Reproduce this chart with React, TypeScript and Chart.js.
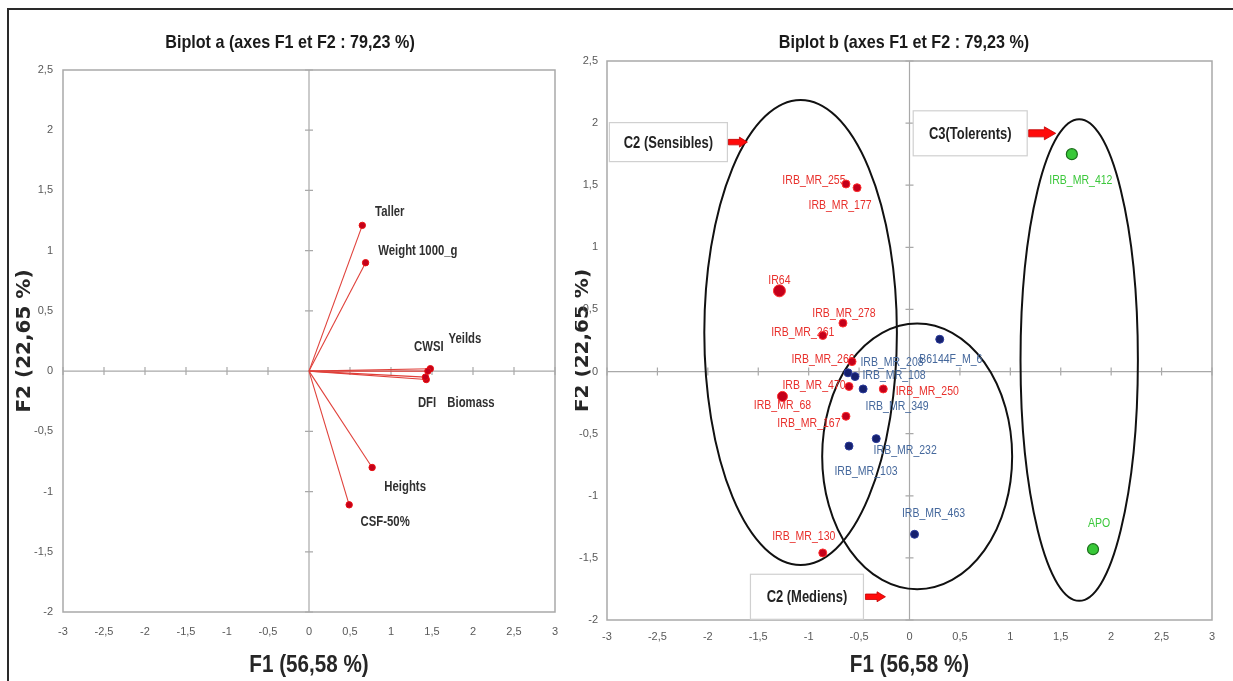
import React, { useEffect, useRef } from 'react';
import { Chart, registerables } from 'chart.js';

Chart.register(...registerables);

// ---------------- DATA ----------------
const TITLE_A = 'Biplot a (axes F1 et F2 : 79,23 %)';
const TITLE_B = 'Biplot b (axes F1 et F2 : 79,23 %)';
const X_TITLE = 'F1 (56,58 %)';
const Y_TITLE = 'F2 (22,65 %)';

const X_MIN = -3;
const X_MAX = 3;
const Y_MIN = -2;
const Y_MAX = 2.5;
const TICK_STEP = 0.5;

// Variables (biplot a)
const VAR_NAMES = ['Taller', 'Weight 1000_g', 'CWSI', 'Yeilds', 'DFI', 'Biomass', 'Heights', 'CSF-50%'];
const VAR_F1 = [0.65, 0.69, 1.45, 1.48, 1.42, 1.43, 0.77, 0.49];
const VAR_F2 = [1.21, 0.9, 0.0, 0.02, -0.05, -0.07, -0.8, -1.11];

// Genotypes (biplot b)
const SENS_NAMES = ['IRB_MR_255', 'IRB_MR_177', 'IR64', 'IRB_MR_278', 'IRB_MR_261', 'IRB_MR_266', 'IRB_MR_470', 'IRB_MR_250', 'IRB_MR_68', 'IRB_MR_167', 'IRB_MR_130'];
const SENS_F1 = [-0.63, -0.52, -1.29, -0.66, -0.86, -0.57, -0.6, -0.26, -1.26, -0.63, -0.86];
const SENS_F2 = [1.51, 1.48, 0.65, 0.39, 0.29, 0.08, -0.12, -0.14, -0.2, -0.36, -1.46];

const MED_NAMES = ['IRB_MR_208', 'IRB_MR_108', 'IRB_MR_349', 'IRB_MR_232', 'IRB_MR_103', 'B6144F_M_6', 'IRB_MR_463'];
const MED_F1 = [-0.61, -0.54, -0.46, -0.33, -0.6, 0.3, 0.05];
const MED_F2 = [-0.01, -0.04, -0.14, -0.54, -0.6, 0.26, -1.31];

const TOL_NAMES = ['IRB_MR_412', 'APO'];
const TOL_F1 = [1.61, 1.82];
const TOL_F2 = [1.75, -1.43];

// Group ellipses (data units: centre, semi-axes)
const GROUP_CX = [-1.08, 0.076, 1.683];
const GROUP_CY = [0.314, -0.683, 0.093];
const GROUP_RX = [0.955, 0.942, 0.582];
const GROUP_RY = [1.872, 1.07, 1.939];

// Callout boxes
const CALLOUT_TEXT = ['C2 (Sensibles)', 'C3(Tolerents)', 'C2 (Mediens)'];
const CALLOUT_CX = [-2.391, 0.602, -1.017];
const CALLOUT_CY = [1.847, 1.918, -1.813];

// ---------------- STYLE ----------------
const SANS = "'Liberation Sans', Arial, sans-serif";
const WIDE_BOLD = "'DejaVu Sans', Verdana, sans-serif";
const NARROW_X = 0.81; // horizontal squeeze imitating Arial Narrow

const VAR_LABEL_OFFSETS: [number, number][] = [
  [27.5, -13.3], [52.3, -11.7], [1, -23.7], [34.6, -29.3], [1.6, 26.3], [44.7, 24], [33, 19.5], [36, 17.5],
];
const SENS_LABEL_OFFSETS: [number, number][] = [
  [-32, -4], [-17, 18], [0, -10], [1, -10], [-20, -3], [-29, -2], [-35, -1], [44, 2], [0, 9], [-37, 7], [-19, -16],
];
const MED_LABEL_OFFSETS: [number, number][] = [
  [44, -10], [39, -1], [34, 17], [29, 12], [17, 25], [11, 20], [19, -21],
];
const TOL_LABEL_OFFSETS: [number, number][] = [[9, 26], [6, -26]];
const SENS_RADIUS = [4, 4, 6, 4, 4, 4, 4, 4, 5, 4, 4];

const CALLOUT_SIZE: [number, number][] = [[118, 39], [114, 45], [113, 45]];
const CALLOUT_ARROW: [number, number, number][] = [[1, 19, 10], [1.5, 27, 13], [2, 20, 10]];

const fmtTick = (v: number | string) => {
  const n = Math.round(Number(v) * 10) / 10;
  return String(n).replace('.', ',');
};

function narrowText(ctx: CanvasRenderingContext2D, text: string, x: number, y: number, font: string, color: string, sx = NARROW_X) {
  ctx.save();
  ctx.font = font;
  ctx.fillStyle = color;
  ctx.textAlign = 'center';
  ctx.textBaseline = 'middle';
  ctx.translate(x, y);
  ctx.scale(sx, 1);
  ctx.fillText(text, 0, 0);
  ctx.restore();
}

type LabelItem = { ds: number; idx: number; text: string; dx: number; dy: number; color: string; font: string };

function decorPlugin(extra: { title: string; labels: LabelItem[]; ellipses?: boolean; callouts?: boolean }) {
  return {
    id: 'decor',
    beforeDatasetsDraw(chart: any) {
      const { ctx, chartArea: a } = chart;
      const xs = chart.scales.x;
      const ys = chart.scales.y;
      ctx.save();
      ctx.strokeStyle = '#a9a9a9';
      ctx.lineWidth = 1.5;
      ctx.strokeRect(a.left, a.top, a.right - a.left, a.bottom - a.top);
      const x0 = xs.getPixelForValue(0);
      const y0 = ys.getPixelForValue(0);
      ctx.lineWidth = 1.2;
      ctx.beginPath();
      ctx.moveTo(x0, a.top);
      ctx.lineTo(x0, a.bottom);
      ctx.moveTo(a.left, y0);
      ctx.lineTo(a.right, y0);
      xs.ticks.forEach((t: any) => {
        const p = xs.getPixelForValue(t.value);
        ctx.moveTo(p, y0 - 4);
        ctx.lineTo(p, y0 + 4);
      });
      ys.ticks.forEach((t: any) => {
        const p = ys.getPixelForValue(t.value);
        ctx.moveTo(x0 - 4, p);
        ctx.lineTo(x0 + 4, p);
      });
      ctx.stroke();

      if (extra.ellipses) {
        ctx.strokeStyle = '#111';
        ctx.lineWidth = 2;
        for (let i = 0; i < GROUP_CX.length; i++) {
          const cx = xs.getPixelForValue(GROUP_CX[i]);
          const cy = ys.getPixelForValue(GROUP_CY[i]);
          const rx = Math.abs(xs.getPixelForValue(GROUP_CX[i] + GROUP_RX[i]) - cx);
          const ry = Math.abs(ys.getPixelForValue(GROUP_CY[i] + GROUP_RY[i]) - cy);
          ctx.beginPath();
          ctx.ellipse(cx, cy, rx, ry, 0, 0, Math.PI * 2);
          ctx.stroke();
        }
      }
      ctx.restore();

      // point labels (drawn under the markers, as in the source figure)
      extra.labels.forEach((l) => {
        const el = chart.getDatasetMeta(l.ds).data[l.idx];
        if (!el) return;
        narrowText(ctx, l.text, el.x + l.dx, el.y + l.dy, l.font, l.color);
      });
    },
    afterDraw(chart: any) {
      const { ctx, chartArea: a, width } = chart;
      const xs = chart.scales.x;
      const ys = chart.scales.y;
      if (extra.callouts) {
        ctx.save();
        for (let i = 0; i < CALLOUT_TEXT.length; i++) {
          const cx = xs.getPixelForValue(CALLOUT_CX[i]);
          const cy = ys.getPixelForValue(CALLOUT_CY[i]);
          const [w, h] = CALLOUT_SIZE[i];
          const l = cx - w / 2;
          const t = cy - h / 2;
          ctx.fillStyle = '#ffffff';
          ctx.fillRect(l, t, w, h);
          ctx.strokeStyle = '#d0d0d0';
          ctx.lineWidth = 1.2;
          ctx.strokeRect(l, t, w, h);
          narrowText(ctx, CALLOUT_TEXT[i], cx, cy + 1, `bold 16px ${SANS}`, '#222');
          // red block arrow
          const [gap, len, ah] = CALLOUT_ARROW[i];
          const ax = l + w + gap;
          const head = len * 0.42;
          const sh = ah * 0.55;
          ctx.beginPath();
          ctx.moveTo(ax, cy - sh / 2);
          ctx.lineTo(ax + len - head, cy - sh / 2);
          ctx.lineTo(ax + len - head, cy - ah / 2);
          ctx.lineTo(ax + len, cy);
          ctx.lineTo(ax + len - head, cy + ah / 2);
          ctx.lineTo(ax + len - head, cy + sh / 2);
          ctx.lineTo(ax, cy + sh / 2);
          ctx.closePath();
          ctx.fillStyle = '#ff0a0a';
          ctx.fill();
          ctx.strokeStyle = '#c00000';
          ctx.lineWidth = 0.8;
          ctx.stroke();
        }
        ctx.restore();
      }
      // chart title and x-axis title (Arial Narrow look)
      narrowText(ctx, extra.title, width / 2, 43, `bold 19px ${SANS}`, '#1a1a1a', 0.85);
      narrowText(ctx, X_TITLE, (a.left + a.right) / 2, 665, `bold 24px ${SANS}`, '#262626', 0.86);
    },
  };
}

function makeScales(p: { yWidth: number; y2Width: number; xHeight: number; xTickPad: number; yTickPad: number; yTitlePad: number }) {
  const tickFont = { family: SANS, size: 11 };
  return {
    x: {
      type: 'linear',
      position: 'bottom',
      min: X_MIN,
      max: X_MAX,
      ticks: { stepSize: TICK_STEP, color: '#595959', font: tickFont, padding: p.xTickPad, callback: fmtTick, maxRotation: 0, autoSkip: false },
      grid: { display: false, drawTicks: false },
      border: { display: false },
      afterFit: (s: any) => {
        s.height = p.xHeight;
      },
    },
    y: {
      type: 'linear',
      position: 'left',
      min: Y_MIN,
      max: Y_MAX,
      ticks: { stepSize: TICK_STEP, color: '#595959', font: tickFont, padding: p.yTickPad, callback: fmtTick, autoSkip: false },
      grid: { display: false, drawTicks: false },
      border: { display: false },
      title: {
        display: true,
        text: Y_TITLE,
        color: '#262626',
        font: { family: WIDE_BOLD, size: 20, weight: 'bold', lineHeight: 1 },
        padding: { top: p.yTitlePad, bottom: 0 },
      },
      afterFit: (s: any) => {
        s.width = p.yWidth;
      },
    },
    y2: {
      type: 'linear',
      position: 'right',
      display: true,
      min: Y_MIN,
      max: Y_MAX,
      ticks: { display: false },
      grid: { display: false, drawTicks: false },
      border: { display: false },
      afterFit: (s: any) => {
        s.width = p.y2Width;
      },
    },
  };
}

function leftConfig(): any {
  const datasets = VAR_NAMES.map((name, i) => ({
    label: name,
    data: [
      { x: 0, y: 0 },
      { x: VAR_F1[i], y: VAR_F2[i] },
    ],
    showLine: true,
    borderColor: '#e0403a',
    borderWidth: 1.1,
    pointRadius: [0, 3.2],
    pointBackgroundColor: '#c4001a',
    pointBorderColor: '#e81010',
    pointBorderWidth: 1,
  }));
  const labels: LabelItem[] = VAR_NAMES.map((name, i) => ({
    ds: i,
    idx: 1,
    text: name,
    dx: VAR_LABEL_OFFSETS[i][0],
    dy: VAR_LABEL_OFFSETS[i][1],
    color: '#303030',
    font: `bold 14px ${SANS}`,
  }));
  return {
    type: 'scatter',
    data: { datasets },
    options: {
      animation: false,
      responsive: false,
      layout: { padding: { top: 70, left: 0, right: 0, bottom: 0 } },
      scales: makeScales({ yWidth: 63, y2Width: 25, xHeight: 69, xTickPad: 13, yTickPad: 10, yTitlePad: 15 }),
      plugins: {
        legend: { display: false },
        tooltip: { enabled: false },
        title: { display: false },
      },
    },
    plugins: [decorPlugin({ title: TITLE_A, labels })],
  };
}

function rightConfig(): any {
  const toPts = (xs: number[], ys: number[]) => xs.map((x, i) => ({ x, y: ys[i] }));
  const datasets = [
    {
      label: 'Sensibles',
      data: toPts(SENS_F1, SENS_F2),
      pointRadius: SENS_RADIUS,
      pointBackgroundColor: '#c4001a',
      pointBorderColor: '#ff3030',
      pointBorderWidth: 1,
    },
    {
      label: 'Mediens',
      data: toPts(MED_F1, MED_F2),
      pointRadius: 4,
      pointBackgroundColor: '#16216e',
      pointBorderColor: '#2a3a9a',
      pointBorderWidth: 1,
    },
    {
      label: 'Tolerents',
      data: toPts(TOL_F1, TOL_F2),
      pointRadius: 5.5,
      pointBackgroundColor: '#38c838',
      pointBorderColor: '#1a6e1a',
      pointBorderWidth: 1.2,
    },
  ];
  const lf = `13px ${SANS}`;
  const labels: LabelItem[] = [
    ...SENS_NAMES.map((n, i) => ({ ds: 0, idx: i, text: n, dx: SENS_LABEL_OFFSETS[i][0], dy: SENS_LABEL_OFFSETS[i][1], color: '#e8302c', font: lf })),
    ...MED_NAMES.map((n, i) => ({ ds: 1, idx: i, text: n, dx: MED_LABEL_OFFSETS[i][0], dy: MED_LABEL_OFFSETS[i][1], color: '#45689c', font: lf })),
    ...TOL_NAMES.map((n, i) => ({ ds: 2, idx: i, text: n, dx: TOL_LABEL_OFFSETS[i][0], dy: TOL_LABEL_OFFSETS[i][1], color: '#3cc83c', font: lf })),
  ];
  return {
    type: 'scatter',
    data: { datasets },
    options: {
      animation: false,
      responsive: false,
      layout: { padding: { top: 61, left: 0, right: 0, bottom: 0 } },
      scales: makeScales({ yWidth: 32, y2Width: 21, xHeight: 61, xTickPad: 10, yTickPad: 9, yTitlePad: -2 }),
      plugins: {
        legend: { display: false },
        tooltip: { enabled: false },
        title: { display: false },
      },
    },
    plugins: [decorPlugin({ title: TITLE_B, labels, ellipses: true, callouts: true })],
  };
}

export default function App() {
  const leftRef = useRef<HTMLCanvasElement>(null);
  const rightRef = useRef<HTMLCanvasElement>(null);
  useEffect(() => {
    const c1 = new Chart(leftRef.current as HTMLCanvasElement, leftConfig());
    const c2 = new Chart(rightRef.current as HTMLCanvasElement, rightConfig());
    return () => {
      c1.destroy();
      c2.destroy();
    };
  }, []);
  return (
    <div style={{ position: 'absolute', left: 0, top: 0, width: 1233, height: 681, background: '#fff', overflow: 'hidden' }}>
      <div
        style={{
          position: 'absolute',
          left: 7,
          top: 8,
          width: 1260,
          height: 720,
          borderTop: '2px solid #2a2a2a',
          borderLeft: '2px solid #2a2a2a',
        }}
      />
      <canvas ref={leftRef} width={580} height={681} style={{ position: 'absolute', left: 0, top: 0, width: 580, height: 681 }} />
      <canvas ref={rightRef} width={658} height={681} style={{ position: 'absolute', left: 575, top: 0, width: 658, height: 681 }} />
    </div>
  );
}
